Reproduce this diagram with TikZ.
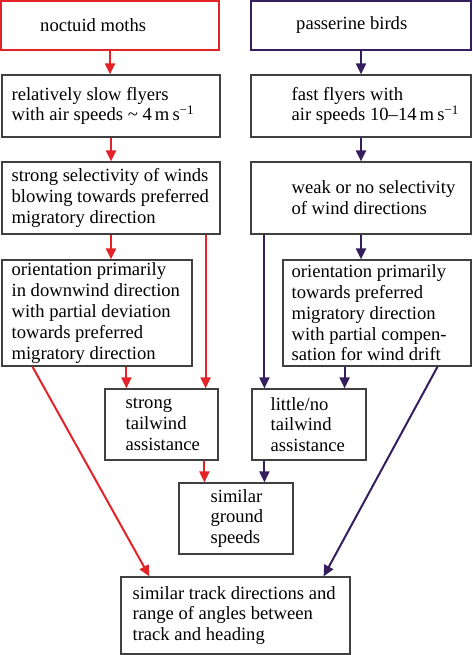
\documentclass[tikz,border=0pt]{standalone}
\usepackage{fontspec}
\setmainfont{Liberation Serif}
\usetikzlibrary{arrows.meta,calc}
\definecolor{mred}{RGB}{228,35,40}
\definecolor{mpur}{RGB}{52,30,94}
\begin{document}
\begin{tikzpicture}[x=1pt,y=-1pt,
  box/.style={draw=black!75,line width=1.2pt,inner sep=0pt},
  txt/.style={anchor=west,align=left,inner sep=0pt,font=\fontsize{18.6}{20.8}\selectfont},
  ra/.style={draw=mred,line width=2pt,-{Triangle[length=11pt,width=10pt]}},
  pa/.style={draw=mpur,line width=2pt,-{Triangle[length=11pt,width=10pt]}}]
\useasboundingbox (0,0) rectangle (472,655);
% boxes
\node[box,draw=mred,line width=2pt,minimum width=218pt,minimum height=49pt] (moth) at (110,25.5) {};
\node[box,minimum width=218pt,minimum height=62pt] (slow) at (111,106) {};
\node[box,minimum width=218pt,minimum height=72pt] (sel) at (111,198) {};
\node[box,minimum width=190pt,minimum height=106pt] (oleft) at (97,313) {};
\node[box,draw=mpur,line width=2pt,minimum width=220pt,minimum height=49pt] (bird) at (361,25.5) {};
\node[box,minimum width=220pt,minimum height=62pt] (fast) at (361,106) {};
\node[box,minimum width=220pt,minimum height=72pt] (weak) at (361,198) {};
\node[box,minimum width=188pt,minimum height=106pt] (oright) at (377,313) {};
\node[box,minimum width=113pt,minimum height=71pt] (stail) at (161.5,424.5) {};
\node[box,minimum width=114pt,minimum height=71pt] (litt) at (309,424.5) {};
\node[box,minimum width=114pt,minimum height=71pt] (gro) at (236,518.5) {};
\node[box,minimum width=229pt,minimum height=77pt] (track) at (235.5,615.5) {};
% texts
\node[txt] (tmoth) at ([xshift=40pt]moth.west) {noctuid moths};
\node[txt] (tslow) at ([xshift=10pt]slow.west) {relatively slow flyers\\with air speeds \textasciitilde\ 4\,m\,s\textsuperscript{−1}};
\node[txt] (tsel) at ([xshift=10pt]sel.west) {strong selectivity of winds\\blowing towards preferred\\migratory direction};
\node[txt] (toleft) at ([xshift=10pt]oleft.west) {orientation primarily\\in downwind direction\\with partial deviation\\towards preferred\\migratory direction};
\node[txt] (tstail) at ([xshift=21pt]stail.west) {strong\\tailwind\\assistance};
\node[txt] (tbird) at ([xshift=46pt]bird.west) {passerine birds};
\node[txt] (tfast) at ([xshift=41pt]fast.west) {fast flyers with\\air speeds 10–14\,m\,s\textsuperscript{−1}};
\node[txt] (tweak) at ([xshift=41pt]weak.west) {weak or no selectivity\\of wind directions};
\node[txt] (toright) at ([xshift=9pt]oright.west) {orientation primarily\\towards preferred\\migratory direction\\with partial compen-\\sation for wind drift};
\node[txt] (tlitt) at ([xshift=19pt]litt.west) {little/no\\tailwind\\assistance};
\node[txt] (tgro) at ([xshift=32pt]gro.west) {similar\\ground\\speeds};
\node[txt] (ttrack) at ([xshift=12pt]track.west) {similar track directions and\\range of angles between\\track and heading};
% helper coordinates
\coordinate (c1) at ([xshift=-13pt]stail.north east);
\coordinate (c2) at ([xshift=22pt]stail.north west);
\coordinate (c3) at ([xshift=26pt]gro.north west);
\coordinate (c4) at ([xshift=13pt]litt.north west);
\coordinate (c5) at ([xshift=-22pt]litt.north east);
\coordinate (c6) at ([xshift=86pt]gro.north west);
% red arrows
\draw[ra] (moth.south) -- (moth.south |- slow.north);
\draw[ra] (slow.south) -- (slow.south |- sel.north);
\draw[ra] (sel.south) -- (sel.south |- oleft.north);
\draw[ra] (c1 |- sel.south) -- (c1);
\draw[ra] (c2 |- oleft.south) -- (c2);
\draw[ra] ([xshift=31pt]oleft.south west) -- ([xshift=29pt]track.north west);
\draw[ra] (c3 |- stail.south) -- (c3);
% purple arrows
\draw[pa] (bird.south) -- (bird.south |- fast.north);
\draw[pa] (fast.south) -- (fast.south |- weak.north);
\draw[pa] (weak.south) -- (weak.south |- oright.north);
\draw[pa] (c4 |- weak.south) -- (c4);
\draw[pa] (c5 |- oright.south) -- (c5);
\draw[pa] ([xshift=-34pt]oright.south east) -- ([xshift=-27pt]track.north east);
\draw[pa] (c6 |- litt.south) -- (c6);
\end{tikzpicture}
\end{document}
